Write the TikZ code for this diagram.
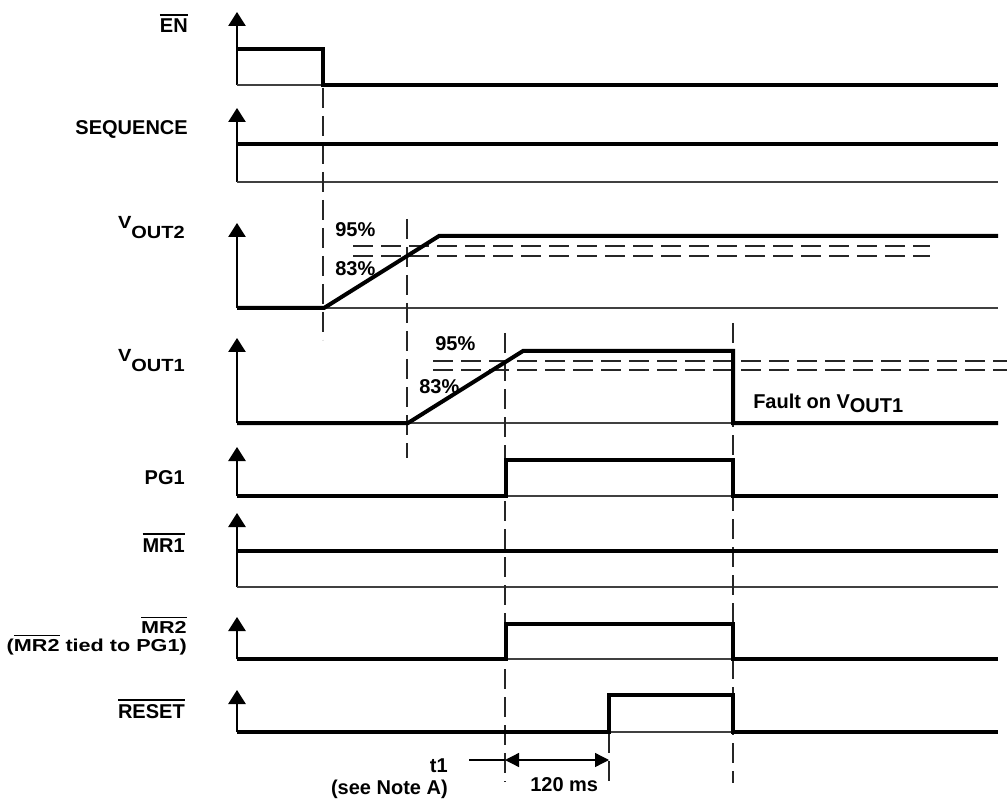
\documentclass[tikz,border=0pt]{standalone}
\usepackage{fontspec}
\setmainfont{Liberation Sans}
\usetikzlibrary{arrows.meta}
\newcommand\ovl[1]{\leavevmode\vbox{\hrule height 1.5pt \kern 2.6pt \hbox{#1}}}
\newcommand\sq[1]{\scalebox{1}[0.8]{#1}}
\newcommand\sqv[1]{\scalebox{1}[0.88]{#1}}
\begin{document}
\begin{tikzpicture}[x=0.75pt,y=-0.75pt,
  sig/.style={line width=3pt,line join=miter,line cap=butt},
  axis/.style={line width=1.2pt,-{Triangle[width=13pt,length=10.5pt]}},
  base/.style={line width=1pt,black!75},
  dsh/.style={line width=0.8pt,black!85,dash pattern=on 15pt off 6pt},
  lbl/.style={font=\bfseries\fontsize{15}{17}\selectfont,inner sep=0pt},
  lbls/.style={font=\bfseries\fontsize{16.2}{17}\selectfont,inner sep=0pt},
  dim/.style={line width=1pt,{Triangle[width=10.5pt,length=10.5pt]}-{Triangle[width=10.5pt,length=10.5pt]}}]
\path[use as bounding box] (0,0) rectangle (1007,802);

% labels
\node[lbl,anchor=base east] (lEN) at (188,33) {\ovl{EN}};
\node[lbl,anchor=base east] (lSEQ) at (188,135) {SEQUENCE};
\node[lbl,anchor=base east] (lV2) at (185,229) {\sqv{V\raisebox{-8pt}{OUT2}}};
\node[lbl,anchor=base east] (lV1) at (185,362) {\sqv{V\raisebox{-8pt}{OUT1}}};
\node[lbl,anchor=base east] (lPG) at (185,484) {PG1};
\node[lbl,anchor=base east] (lMR1) at (185,552) {\ovl{MR1}};
\node[lbls,anchor=base east] (lMR2) at (187,633) {\sq{\ovl{MR2}}};
\node[lbls,anchor=base east] (lMR2b) at (187,651) {\sq{(\ovl{MR2} tied to PG1)}};
\node[lbl,anchor=base east] (lRES) at (185,718) {\ovl{RESET}};

% axes
\draw[axis] (237,85) -- (237,12);
\draw[axis] (237,182) -- (237,108);
\draw[axis] (237,308) -- (237,223);
\draw[axis] (237,423) -- (237,338);
\draw[axis] (237,496) -- (237,447);
\draw[axis] (237,587) -- (237,513);
\draw[axis] (237,659) -- (237,617);
\draw[axis] (237,732) -- (237,690);

% baselines
\foreach \y in {85,182,308,423,496,587,659,732}
  \draw[base] (237,\y) -- (998,\y);

% threshold dashed lines
\draw[dsh] (353,246) -- (930,246);
\draw[dsh] (353,256) -- (930,256);
\draw[dsh] (433,361) -- (1007,361);
\draw[dsh] (433,370) -- (1007,370);

% vertical dashed markers
\draw[dsh] (323,88) -- (323,340);
\draw[dsh] (407,219) -- (407,458);
\draw[dsh] (505,333) -- (505,782);
\draw[dsh] (733,323) -- (733,783);
\draw[dsh] (609,733) -- (609,786);

% signals
\draw[sig] (237,49) -- (323,49) -- (323,85) -- (998,85);
\draw[sig] (237,144) -- (998,144);
\draw[sig] (237,308) -- (324,308) -- (439,236) -- (998,236);
\draw[sig] (237,423) -- (408,423) -- (523,351) -- (733,351) -- (733,423) -- (998,423);
\draw[sig] (237,496) -- (506,496) -- (506,460) -- (733,460) -- (733,496) -- (998,496);
\draw[sig] (237,551) -- (998,551);
\draw[sig] (237,659) -- (506,659) -- (506,624) -- (733,624) -- (733,659) -- (998,659);
\draw[sig] (237,732) -- (609,732) -- (609,695) -- (733,695) -- (733,732) -- (998,732);

% percentage labels
\node[lbl,anchor=base west] (p95a) at (335,237) {95\%};
\node[lbl,anchor=base west] (p83a) at (335,276) {83\%};
\node[lbl,anchor=base west] (p95b) at (435,351) {95\%};
\node[lbl,anchor=base west] (p83b) at (419,393) {83\%};

% fault label
\node[lbl,anchor=base west] (fault) at (753,408) {Fault on V\raisebox{-3pt}{OUT1}};

% timing annotation
\coordinate (t1s) at (469,760);
\coordinate (ta) at (505,760);
\coordinate (tb) at (609,760);
\draw[line width=1pt] (t1s) -- (ta);
\draw[dim] (ta) -- (tb);
\node[lbl,anchor=base east] (t1) at (448,772) {t1};
\node[lbl,anchor=base east] (note) at (448,794) {(see Note A)};
\node[lbl,anchor=base west] (ms) at (530,791) {120 ms};
\end{tikzpicture}
\end{document}
